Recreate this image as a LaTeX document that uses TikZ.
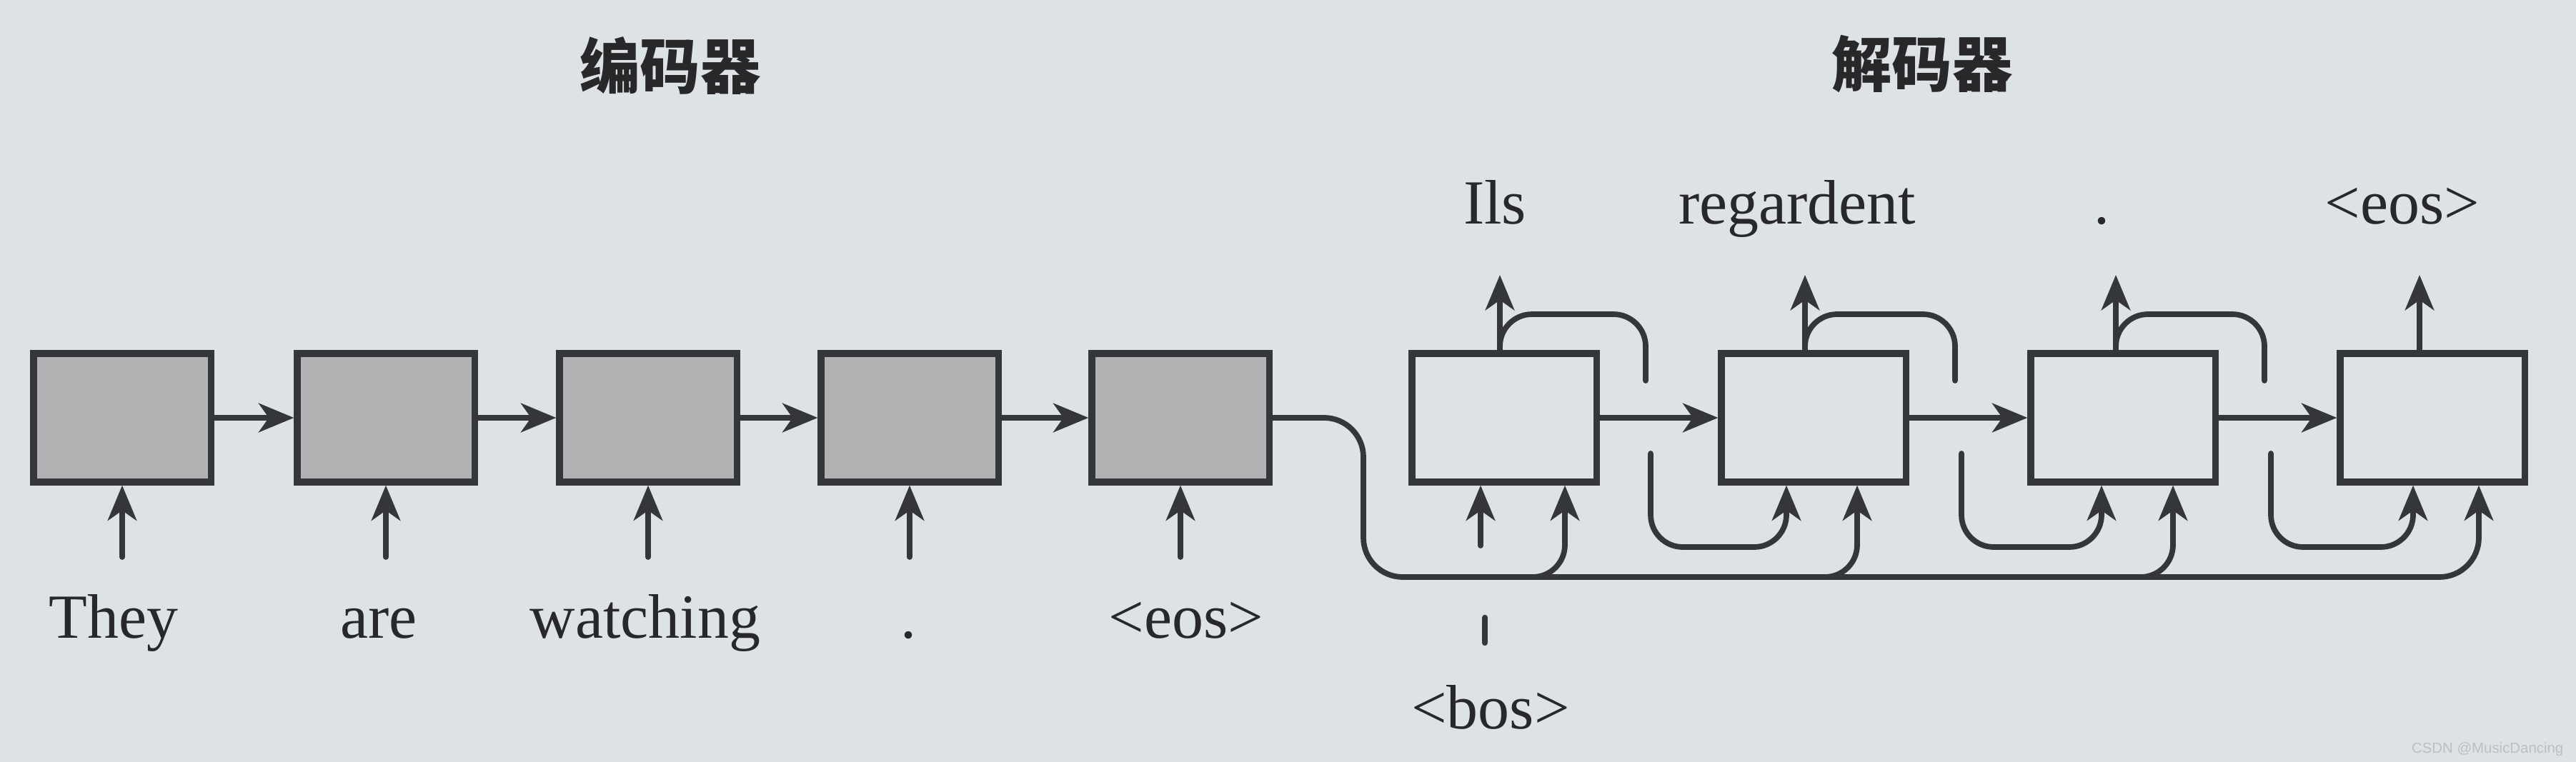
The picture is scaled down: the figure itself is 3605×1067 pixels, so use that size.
\documentclass[tikz,border=0pt]{standalone}
\usepackage{fontspec}
\setmainfont{Liberation Serif}
\setsansfont{Liberation Sans}
\newfontfamily\cjk{Noto Sans CJK SC}
\usetikzlibrary{arrows.meta,calc}
\definecolor{bgc}{RGB}{221,226,228}
\definecolor{inkc}{RGB}{52,54,57}
\definecolor{encf}{RGB}{176,178,180}
\definecolor{txtc}{RGB}{40,40,42}
\definecolor{wmc}{RGB}{188,191,193}
\tikzset{
 conn/.style={draw=inkc, line width=2.2pt, line cap=round},
 arr/.style={conn, -{Stealth[length=14pt,width=11.5pt,inset=4pt]}},
 ebox/.style={draw=inkc, fill=encf, line width=2.6pt, minimum width=2.48cm, minimum height=1.8cm, inner sep=0pt},
 dbox/.style={ebox, fill=bgc, minimum width=2.58cm},
 lab/.style={anchor=base, text=txtc, font=\fontsize{25}{30}\selectfont, inner sep=0pt},
 cn/.style={text=txtc, font=\cjk\bfseries\fontsize{24}{28}\selectfont, inner sep=0pt},
 rc/.style={rounded corners=0.45cm},
 rcb/.style={rounded corners=0.55cm},
}
\begin{document}
\begin{tikzpicture}[x=0.01cm,y=-0.01cm]
\fill[bgc] (0,0) rectangle (3605,1067);
\useasboundingbox (0,0) rectangle (3605,1067);

% titles
\node[cn] (tenc) at (938,92) {编码器};
\node[cn] (tdec) at (2690,90) {解码器};

% encoder boxes
\node[ebox] (e1) at (171,585) {};
\node[ebox] (e2) at (540,585) {};
\node[ebox] (e3) at (907,585) {};
\node[ebox] (e4) at (1273,585) {};
\node[ebox] (e5) at (1652,585) {};

% decoder boxes
\node[dbox] (d1) at (2105,585) {};
\node[dbox] (d2) at (2538,585) {};
\node[dbox] (d3) at (2971,585) {};
\node[dbox] (d4) at (3404,585) {};

% encoder recurrent arrows
\draw[arr] (e1) -- (e2);
\draw[arr] (e2) -- (e3);
\draw[arr] (e3) -- (e4);
\draw[arr] (e4) -- (e5);

% encoder inputs
\coordinate (ei1) at (171,780);
\coordinate (ei2) at (540,780);
\coordinate (ei3) at (907,780);
\coordinate (ei4) at (1273,780);
\coordinate (ei5) at (1652,780);
\draw[arr] (ei1) -- (ei1 |- e1.south);
\draw[arr] (ei2) -- (ei2 |- e2.south);
\draw[arr] (ei3) -- (ei3 |- e3.south);
\draw[arr] (ei4) -- (ei4 |- e4.south);
\draw[arr] (ei5) -- (ei5 |- e5.south);

% encoder labels
\node[lab] (w1) at (159,893) {They};
\node[lab] (w2) at (530,893) {are};
\node[lab] (w3) at (903,893) {watching};
\node[lab] (w4) at (1271,893) {.};
\node[lab] (w5) at (1660,893) {<eos>};

% decoder recurrent arrows
\draw[arr] (d1) -- (d2);
\draw[arr] (d2) -- (d3);
\draw[arr] (d3) -- (d4);

% context bus from encoder to all decoder steps
\coordinate (bA) at (1908,585);
\coordinate (bB) at (1908,808);
\coordinate (r1) at (2190,808);
\coordinate (r2) at (2599,808);
\coordinate (r3) at (3041,808);
\coordinate (r4) at (3469,808);
\draw[arr,rcb] (e5.east) -- (bA) -- (bB) -- (r4) -- (r4 |- d4.south);
\draw[arr,rc] ($(r1)+(-70,0)$) -- (r1) -- (r1 |- d1.south);
\draw[arr,rc] ($(r2)+(-70,0)$) -- (r2) -- (r2 |- d2.south);
\draw[arr,rc] ($(r3)+(-70,0)$) -- (r3) -- (r3 |- d3.south);

% decoder outputs
\coordinate (o1) at (2099,385);
\coordinate (o2) at (2526,385);
\coordinate (o3) at (2961,385);
\coordinate (o4) at (3386,385);
\draw[arr] (o1 |- d1.north) -- (o1);
\draw[arr] (o2 |- d2.north) -- (o2);
\draw[arr] (o3 |- d3.north) -- (o3);
\draw[arr] (o4 |- d4.north) -- (o4);

% feedback loops: upper parts
\draw[conn,rc] (o1 |- d1.north) -- (2099,440) -- (2303,440) -- (2303,533);
\draw[conn,rc] (o2 |- d2.north) -- (2526,440) -- (2736,440) -- (2736,533);
\draw[conn,rc] (o3 |- d3.north) -- (2961,440) -- (3169,440) -- (3169,533);

% feedback loops: lower parts
\coordinate (l2) at (2500,766);
\coordinate (l3) at (2941,766);
\coordinate (l4) at (3377,766);
\draw[arr,rc] (2310,635) -- (2310,766) -- (l2) -- (l2 |- d2.south);
\draw[arr,rc] (2745,635) -- (2745,766) -- (l3) -- (l3 |- d3.south);
\draw[arr,rc] (3178,635) -- (3178,766) -- (l4) -- (l4 |- d4.south);

% first decoder input
\coordinate (bi) at (2072,764);
\draw[arr] (bi) -- (bi |- d1.south);
\coordinate (tk1) at (2078,865);
\coordinate (tk2) at (2078,900);
\draw[conn,line width=2.4pt] (tk1) -- (tk2);
\node[lab] (bos) at (2086,1020) {<bos>};

% decoder output labels
\node[lab] (y1) at (2092,314) {Ils};
\node[lab] (y2) at (2515,314) {regardent};
\node[lab] (y3) at (2941,314) {.};
\node[lab] (y4) at (3362,314) {<eos>};

% watermark
\node[anchor=base east, inner sep=0pt, text=wmc, font=\sffamily\fontsize{5.8}{7}\selectfont] (wm) at (3588,1054) {CSDN @MusicDancing};
\end{tikzpicture}
\end{document}
